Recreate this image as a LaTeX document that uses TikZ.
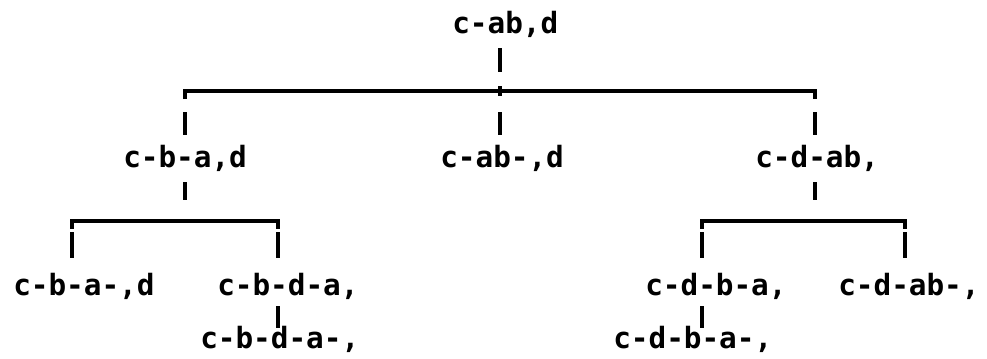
\documentclass[tikz,border=0pt]{standalone}
\usepackage{fontspec}
\setmonofont{DejaVu Sans Mono}
\usetikzlibrary{calc}

\tikzset{
  lbl/.style={anchor=base west,inner sep=0pt,text height=15pt,text depth=4pt,
    font=\ttfamily\bfseries\fontsize{22}{26}\selectfont},
  ln/.style={line width=2.8pt},
  stem/.style={line width=2.8pt},
}

\begin{document}
\begin{tikzpicture}[x=0.75pt,y=0.75pt]
  \useasboundingbox (0,0) rectangle (987,358);
  \node[lbl] (root) at (452,325) {c-ab,d};
  \node[lbl] (ba) at (123,191) {c-b-a,d};
  \node[lbl] (abm) at (440,191) {c-ab-,d};
  \node[lbl] (dab) at (755,191) {c-d-ab,};
  \node[lbl] (bam) at (13,63) {c-b-a-,d};
  \node[lbl] (bda) at (217,63) {c-b-d-a,};
  \node[lbl] (dba) at (645,63) {c-d-b-a,};
  \node[lbl] (dabm) at (838,63) {c-d-ab-,};
  \node[lbl] (bdam) at (200,10) {c-b-d-a-,};
  \node[lbl] (dbam) at (613,10) {c-d-b-a-,};

  \coordinate (t0) at (500,267);
  \coordinate (t0l) at (185,267);
  \coordinate (t0r) at (815,267);
  \coordinate (t1l) at (72,137);
  \coordinate (t1m) at (185,137);
  \coordinate (t1r) at (278,137);
  \coordinate (t2l) at (702,137);
  \coordinate (t2m) at (815,137);
  \coordinate (t2r) at (905,137);

  \draw[stem,shorten <=7.25pt,shorten >=14.25pt] (root.south -| t0) -- (t0);
  \draw[stem,shorten <=7.25pt,shorten >=15.75pt] (ba.south -| t1m) -- (t1m);
  \draw[stem,shorten <=7.25pt,shorten >=15.75pt] (dab.south -| t2m) -- (t2m);

  \draw[ln] ($(t0l)+(0,-8)$) -- (t0l) -- (t0r) -- ++(0,-8);
  \draw[stem] ($(t0)+(0,5)$) -- ($(t0)+(0,-5)$);
  \draw[ln] ($(t1l)+(0,-8)$) -- (t1l) -- (t1r) -- ++(0,-8);
  \draw[ln] ($(t2l)+(0,-8)$) -- (t2l) -- (t2r) -- ++(0,-8);

  \foreach \c/\n in {t0l/ba,t0/abm,t0r/dab}
    \draw[stem,shorten <=15.75pt,shorten >=9pt] (\c) -- (\n.north -| \c);
  \foreach \c/\n in {t1l/bam,t1r/bda,t2l/dba,t2r/dabm}
    \draw[stem,shorten <=8.25pt,shorten >=12.75pt] (\c) -- (\n.north -| \c);

  \draw[stem,shorten <=4.25pt] (bda.south -| t1r) -- (bdam.north -| t1r);
  \draw[stem,shorten <=4.25pt] (dba.south -| t2l) -- (dbam.north -| t2l);
\end{tikzpicture}
\end{document}
